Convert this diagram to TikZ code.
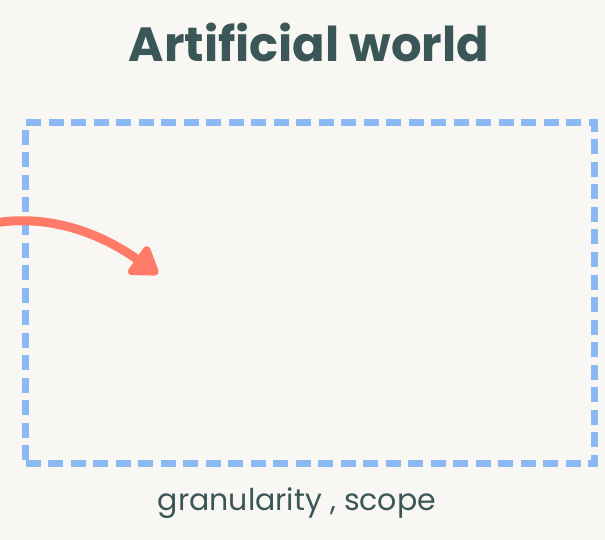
\documentclass[tikz,border=0pt]{standalone}
\usepackage{fontspec}
\setmainfont{Poppins}
\usetikzlibrary{arrows.meta}

\definecolor{paper}{HTML}{F9F7F3}
\definecolor{ink}{HTML}{3A5657}
\definecolor{frameblue}{HTML}{8AB9F3}
\definecolor{arrowred}{HTML}{FF7B68}

\tikzset{
  title/.style={text=ink, font=\fontsize{48}{54}\selectfont\bfseries},
  caption/.style={text=ink, font=\fontsize{30}{36}\selectfont},
  worldbox/.style={draw=frameblue, line width=7pt, dash pattern=on 15pt off 7.5pt,
    minimum width=569pt, minimum height=340pt, inner sep=0pt},
  pointer/.style={draw=arrowred, line width=9pt, line cap=round,
    -{Triangle[round, length=30pt, width=38pt]}},
}

\begin{document}
\begin{tikzpicture}[x=1pt, y=-1pt]
    \fill[paper] (0,0) rectangle (605,540);
    \useasboundingbox (0,0) rectangle (605,540);

    \node[title] (heading) at (309,42) {Artificial world};
    \node[worldbox] (world) at (310,293) {};
    \node[caption] (aspects) at (297,503) {granularity , scope};

    \coordinate (arrstart) at (-6,223);
    \coordinate (arrend) at (158,274);
    \draw[pointer] (arrstart) .. controls (50,214) and (100,233) .. (arrend);
\end{tikzpicture}
\end{document}
